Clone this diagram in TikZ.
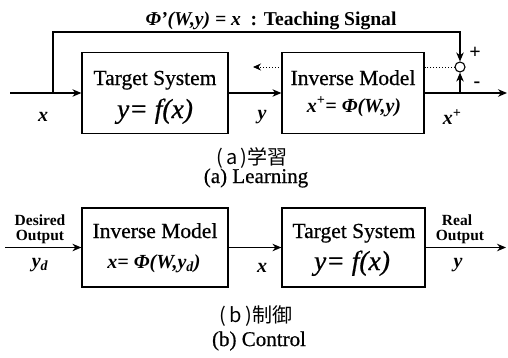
\documentclass[tikz,border=0pt]{standalone}
\usepackage{fontspec}
\setmainfont{Liberation Serif}
\newfontfamily\heavyrm[FakeBold=0.6]{Liberation Serif}
\newfontfamily\cjk{Noto Sans CJK JP}
\usetikzlibrary{arrows.meta}
\tikzset{
  blk/.style={draw, line width=1.2pt, inner sep=0pt},
  ar/.style={-{Stealth[length=9pt,width=7.5pt]}, line width=1.2pt},
  dar/.style={-{Stealth[length=8pt,width=7pt]}, line width=0.9pt, dotted},
  boxt/.style={inner sep=0pt, anchor=base, font=\fontsize{21.5}{23}\heavyrm},
  boxm/.style={inner sep=0pt, anchor=base, font=\fontsize{27.5}{29}\heavyrm\itshape},
  boxs/.style={inner sep=0pt, anchor=base, font=\fontsize{20}{22}\selectfont\bfseries\itshape},
  lab/.style={inner sep=0pt, font=\fontsize{20}{22}\selectfont\bfseries\itshape},
  small/.style={inner sep=0pt, anchor=base, font=\fontsize{15.5}{16}\selectfont\bfseries},
  captxt/.style={inner sep=0pt, font=\fontsize{21}{23}\heavyrm},
  cjkcap/.style={inner sep=0pt, font=\fontsize{20}{22}\cjk},
  sgn/.style={inner sep=0pt, font=\fontsize{20}{22}\selectfont\bfseries},
}
\begin{document}
\begin{tikzpicture}[x=1pt,y=-1pt]
\useasboundingbox[fill=white] (0,0) rectangle (508,357);

% ---------- (a) Learning ----------
\node[blk, minimum width=146pt, minimum height=81pt] (ts1) at (155,93) {};
\node[boxt] (ts1a) at (155,85) {Target System};
\node[boxm] (ts1b) at (155,118) {y= f(x)};

\node[blk, minimum width=142pt, minimum height=81pt] (im1) at (353,93) {};
\node[boxt] (im1a) at (353,85) {Inverse Model};
\node[boxs] (im1b) at (354,112) {x\textsuperscript{+}= Φ(W,y)};

\node[circle, draw, line width=1.1pt, minimum size=10pt, inner sep=0pt] (sum) at (460,67) {};

\coordinate (in1) at (10,93);
\coordinate (j1) at (53,93);
\coordinate (fbL) at (53,32);
\coordinate (fbR) at (460,32);
\coordinate (tap) at (460,93);
\coordinate (out1) at (507,93);
\coordinate (dl) at (253,67);

\draw[line width=1.2pt] (in1) -- (j1);
\draw[ar] (j1) -- (ts1.west |- j1);
\draw[ar] (ts1.east |- j1) -- (im1.west |- j1);
\draw[ar] (im1.east |- j1) -- (out1);
\draw[ar] (j1) -- (fbL) -- (fbR) -- (sum.north);
\draw[ar] (tap) -- (sum.south);
\draw[line width=0.9pt, dotted] (sum.west) -- (sum.west -| im1.east);
\draw[dar] (im1.west |- sum) -- (dl);

\node[sgn] (plus) at (475,53) {+};
\node[sgn] (minus) at (477,85) {-};

\node[lab] (lx) at (43,117) {x};
\node[lab] (ly) at (262,117) {y};
\node[lab] (lxp) at (452,117) {x\textsuperscript{+}};

\node[inner sep=0pt, anchor=base, font=\fontsize{19.6}{21}\selectfont\bfseries] (teach) at (271,25)
  {\textit{Φ'(W,y) = x}\ \ : Teaching Signal};

\node[cjkcap] (capa) at (252,158) {(\,a\,)学習};
\node[captxt] (capa2) at (256,178) {(a) Learning};

% ---------- (b) Control ----------
\node[blk, minimum width=146pt, minimum height=79pt] (im2) at (155,247.5) {};
\node[boxt] (im2a) at (155,238) {Inverse Model};
\node[boxs] (im2b) at (154,268) {x= Φ(W,y\textsubscript{d})};

\node[blk, minimum width=143pt, minimum height=79pt] (ts2) at (353.5,247.5) {};
\node[boxt] (ts2a) at (354,238) {Target System};
\node[boxm] (ts2b) at (352,270) {y= f(x)};

\coordinate (in2) at (5,247.5);
\coordinate (out2) at (506,247.5);
\draw[ar] (in2) -- (im2.west);
\draw[ar] (im2.east) -- (ts2.west);
\draw[ar] (ts2.east) -- (out2);

\node[small] (des) at (40,225) {Desired};
\node[small] (desout) at (40,240) {Output};
\node[lab] (lyd) at (40,265) {y\textsubscript{d}};
\node[lab] (lx2) at (262,268) {x};
\node[small] (real) at (457,225) {Real};
\node[small] (realout) at (460,240) {Output};
\node[lab] (ly2) at (458,265) {y};

\node[cjkcap] (capb) at (256,316) {(\,b\,)制御};
\node[captxt] (capb2) at (259,341) {(b) Control};
\end{tikzpicture}
\end{document}
